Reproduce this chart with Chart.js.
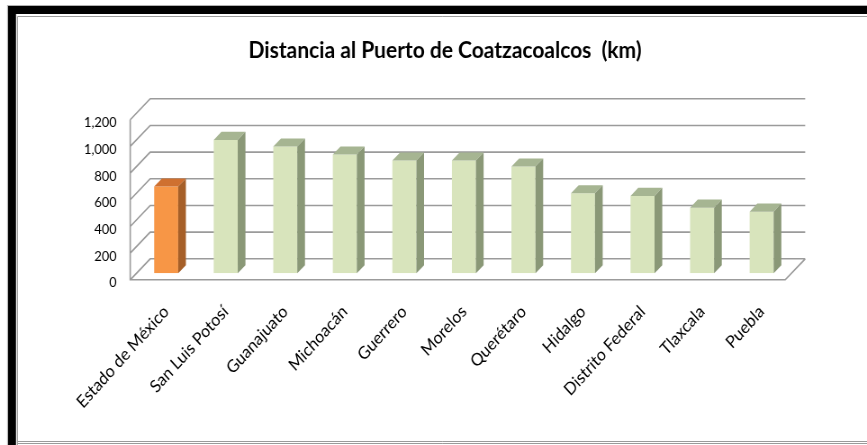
<!DOCTYPE html>
<html>
<head>
<meta charset="utf-8">
<script src="https://cdn.jsdelivr.net/npm/chart.js@4"></script>
<style>
  html, body { margin: 0; padding: 0; background: #fff; overflow: hidden; }
  #wrap { width: 867px; height: 445px; overflow: hidden; position: relative; }
  #c { position: absolute; left: 0; top: 0; transform-origin: 0 0; }
</style>
</head>
<body>
<div id="wrap"><canvas id="c"></canvas></div>
<script>
// Distance (km) from each state to the port of Coatzacoalcos
const categories = ['Estado de México', 'San Luis Potosí', 'Guanajuato', 'Michoacán', 'Guerrero',
  'Morelos', 'Querétaro', 'Hidalgo', 'Distrito Federal', 'Tlaxcala', 'Puebla'];
const distances = [650, 1000, 950, 890, 845, 845, 800, 600, 580, 492, 462];
const yTicks = [0, 200, 400, 600, 800, 1000, 1200];
const highlighted = 'Estado de México';

// The canvas is laid out wider than the page and squeezed horizontally by CSS.
const PAGE_W = 867, PAGE_H = 445;
const CANVAS_W = 963;
const SX = PAGE_W / CANVAS_W;
const X = v => v / SX;           // page x-distance -> canvas x-distance

const canvas = document.getElementById('c');
canvas.width = CANVAS_W;
canvas.height = PAGE_H;
canvas.style.width = CANVAS_W + 'px';
canvas.style.height = PAGE_H + 'px';
canvas.style.transform = `scaleX(${SX})`;

// Depth vector of the 3-D box (page px across, px up).
const DEPTH = { x: X(20), y: -21 };
const FRONT_FRAC = 0.31;   // bar front face sits this far into the box
const BAR_FRAC = 0.385;    // bar depth as a share of the box depth

const ORANGE = { front: '#F79646', side: '#A65F28', top: '#CF7030' };
const GREEN = { front: '#D8E4BC', side: '#8A9877', top: '#A6B592' };
const barStyles = categories.map(c => c === highlighted ? ORANGE : GREEN);

const box3d = {
  id: 'box3d',
  beforeDraw(chart) {
    const { ctx, width, height } = chart;
    ctx.save();
    ctx.fillStyle = '#fff';
    ctx.fillRect(0, 0, width, height);
    // shadowed frame: black band along top and left, thin grey border inside
    ctx.fillStyle = '#000';
    ctx.fillRect(X(8), 6, width, 8);
    ctx.fillRect(X(8), 6, X(8), height);
    ctx.strokeStyle = '#b0b0b0';
    ctx.lineWidth = 1;
    ctx.strokeRect(X(8) - 0.5, 5.5, width, height);
    ctx.strokeStyle = '#9a9a9a';
    ctx.beginPath();
    ctx.moveTo(X(17.5), height);
    ctx.lineTo(X(17.5), 16.5);
    ctx.lineTo(width, 16.5);
    ctx.moveTo(X(17.5), 441.5);
    ctx.lineTo(width, 441.5);
    ctx.moveTo(X(17.5), 443.5);
    ctx.lineTo(width, 443.5);
    ctx.stroke();
    ctx.restore();
  },
  beforeDatasetsDraw(chart) {
    const { ctx, chartArea: a, scales: { y } } = chart;
    const f = { x: -FRONT_FRAC * DEPTH.x, y: -FRONT_FRAC * DEPTH.y };
    const b = { x: (1 - FRONT_FRAC) * DEPTH.x, y: (1 - FRONT_FRAC) * DEPTH.y };
    ctx.save();
    ctx.strokeStyle = '#9b9b9b';
    ctx.lineWidth = 1.6;
    ctx.beginPath();
    yTicks.forEach(v => {
      const py = y.getPixelForValue(v);
      // side wall diagonal, then back wall gridline
      ctx.moveTo(a.left + f.x, py + f.y);
      ctx.lineTo(a.left + b.x, py + b.y);
      ctx.lineTo(a.right + b.x, py + b.y);
    });
    const y0 = y.getPixelForValue(0);
    const yTop = y.getPixelForValue(yTicks[yTicks.length - 1]);
    // front edge of the side wall
    ctx.moveTo(a.left + f.x, yTop + f.y);
    ctx.lineTo(a.left + f.x, y0 + f.y);
    // floor front edge and right edge
    ctx.lineTo(a.right + f.x, y0 + f.y);
    ctx.lineTo(a.right + b.x, y0 + b.y);
    ctx.stroke();
    ctx.restore();
  },
  afterDatasetsDraw(chart) {
    const { ctx } = chart;
    const meta = chart.getDatasetMeta(0);
    const dx = BAR_FRAC * DEPTH.x, dy = BAR_FRAC * DEPTH.y;
    ctx.save();
    meta.data.forEach((bar, i) => {
      const { x, y, base, width } = bar.getProps(['x', 'y', 'base', 'width'], true);
      const l = x - width / 2, r = x + width / 2;
      const st = barStyles[i];
      // top face
      ctx.fillStyle = st.top;
      ctx.beginPath();
      ctx.moveTo(l, y);
      ctx.lineTo(r, y);
      ctx.lineTo(r + dx, y + dy);
      ctx.lineTo(l + dx, y + dy);
      ctx.closePath();
      ctx.fill();
      // right side face
      ctx.fillStyle = st.side;
      ctx.beginPath();
      ctx.moveTo(r, y);
      ctx.lineTo(r + dx, y + dy);
      ctx.lineTo(r + dx, base + dy);
      ctx.lineTo(r, base);
      ctx.closePath();
      ctx.fill();
    });
    ctx.restore();
  }
};

new Chart(canvas, {
  type: 'bar',
  data: {
    labels: categories,
    datasets: [{
      data: distances,
      backgroundColor: barStyles.map(s => s.front),
      borderWidth: 0,
      categoryPercentage: 1,
      barPercentage: 0.403
    }]
  },
  options: {
    responsive: false,
    animation: false,
    devicePixelRatio: 1,
    layout: { padding: { left: X(70), right: X(47), top: 0, bottom: 0 } },
    plugins: {
      legend: { display: false },
      tooltip: { enabled: false },
      title: {
        display: true,
        text: 'Distancia al Puerto de Coatzacoalcos  (km)',
        color: '#000',
        font: { family: 'Lato', size: 23.3, weight: 'bold', lineHeight: 1.2 },
        padding: { top: 36.3, bottom: 49 }
      }
    },
    scales: {
      x: {
        grid: { display: false, drawTicks: false },
        border: { display: false },
        ticks: {
          color: '#000',
          font: { family: 'Lato', size: 17.5 },
          minRotation: 45,
          maxRotation: 45,
          autoSkip: false,
          padding: 28,
          labelOffset: 0
        },
        afterFit(s) { s.height = PAGE_H - 273.3; }
      },
      y: {
        min: 0,
        max: 1200,
        grid: { display: false, drawTicks: false },
        border: { display: false },
        ticks: {
          color: '#000',
          font: { family: 'Lato', size: 14.3 },
          padding: X(19.7),
          labelOffset: 9.5,
          callback: v => v.toLocaleString('en-US')
        },
        afterBuildTicks(s) { s.ticks = yTicks.map(v => ({ value: v })); },
        afterFit(s) { s.width = X(136.4 - 70); }
      },
      // empty right-hand margin that keeps the plot and title in place
      yRight: {
        position: 'right',
        grid: { display: false, drawTicks: false },
        border: { display: false },
        ticks: { display: false },
        afterFit(s) { s.width = X(867 - 47 - 791.4); }
      }
    }
  },
  plugins: [box3d]
});
</script>
</body>
</html>
